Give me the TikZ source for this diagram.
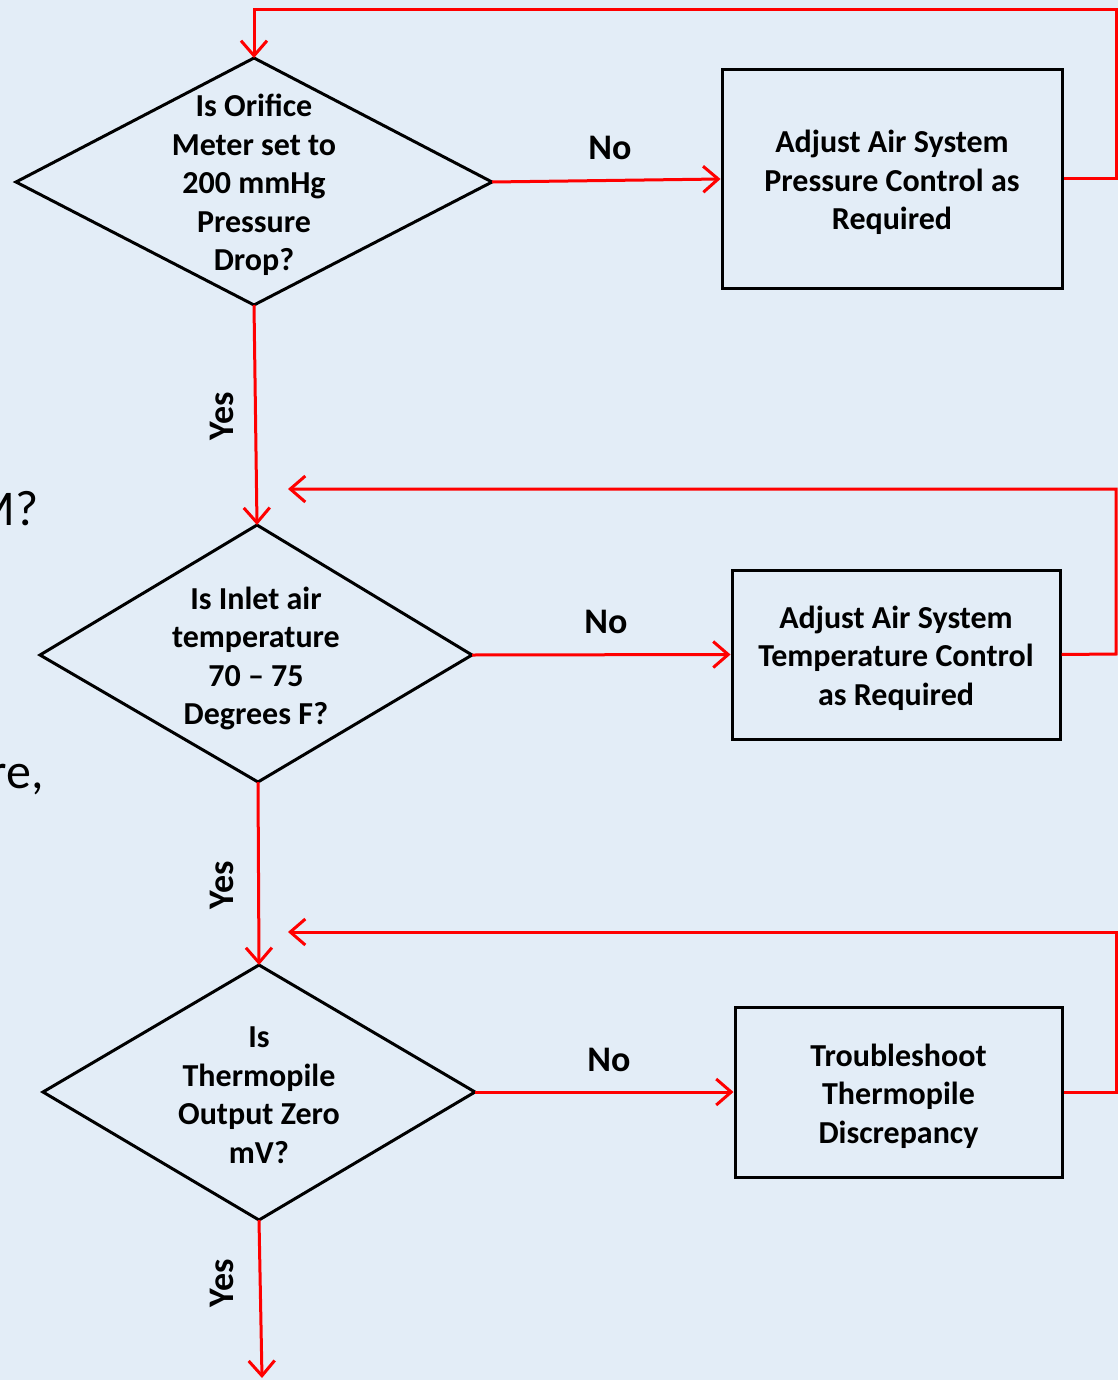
\documentclass[tikz,border=0pt]{standalone}
\usepackage{fontspec}
\setmainfont{Carlito}
\usetikzlibrary{arrows.meta}
\definecolor{bgblue}{HTML}{E3EDF7}
\definecolor{flowred}{HTML}{FF0000}
\begin{document}
\begin{tikzpicture}[x=1pt,y=-1pt,
  shapeline/.style={draw=black,line width=3pt,line join=miter},
  boxst/.style={draw=black,line width=3pt,inner sep=0pt},
  qtext/.style={align=center,font=\bfseries\fontsize{32}{38.5}\selectfont},
  flow/.style={draw=flowred,line width=3pt,
    -{Straight Barb[length=15pt,width=26pt]}},
  nolabel/.style={font=\bfseries\fontsize{36}{40}\selectfont},
  yeslabel/.style={font=\bfseries\fontsize{36}{40}\selectfont,rotate=90},
  bgtext/.style={font=\fontsize{50}{60}\selectfont,inner sep=0pt,anchor=base east}]
\useasboundingbox (0,0) rectangle (1118,1380);
\fill[bgblue] (0,0) rectangle (1118,1380);
\clip (0,0) rectangle (1118,1380);
% background slide fragments
\node[bgtext] (frag1) at (39,525) {M?};
\node[bgtext] (frag2) at (44,788) {re,};
% diamond 1
\coordinate (d1t) at (254,58);
\coordinate (d1r) at (492,182);
\coordinate (d1b) at (254,305);
\coordinate (d1l) at (16,182);
\draw[shapeline] (d1t) -- (d1r) -- (d1b) -- (d1l) -- cycle;
\node[qtext] (q1) at (254,185) {Is Orifice\\Meter set to\\200 mmHg\\Pressure\\Drop?};
% diamond 2
\coordinate (d2t) at (257,525);
\coordinate (d2r) at (472,655);
\coordinate (d2b) at (258,782);
\coordinate (d2l) at (40,655);
\draw[shapeline] (d2t) -- (d2r) -- (d2b) -- (d2l) -- cycle;
\node[qtext] (q2) at (256,658.5) {Is Inlet air\\temperature\\70 -- 75\\Degrees F?};
% diamond 3
\coordinate (d3t) at (259,965);
\coordinate (d3r) at (475,1092);
\coordinate (d3b) at (259,1220);
\coordinate (d3l) at (43,1092);
\draw[shapeline] (d3t) -- (d3r) -- (d3b) -- (d3l) -- cycle;
\node[qtext] (q3) at (259,1095) {Is\\Thermopile\\Output Zero\\mV?};
% boxes
\node[boxst,minimum width=340pt,minimum height=218pt] (b1) at (892,179) {};
\node[qtext] (b1t) at (892,182.5) {Adjust Air System\\Pressure Control as\\Required};
\node[boxst,minimum width=328pt,minimum height=169pt] (b2) at (896,654.5) {};
\node[qtext] (b2t) at (896,658) {Adjust Air System\\Temperature Control\\as Required};
\node[boxst,minimum width=327pt,minimum height=170pt] (b3) at (898.5,1092) {};
\node[qtext] (b3t) at (898.5,1096) {Troubleshoot\\Thermopile\\Discrepancy};
% route coordinates
\coordinate (r1a) at (1116,179);
\coordinate (r1b) at (1116,10);
\coordinate (r1c) at (254,10);
\coordinate (r2a) at (1116,654);
\coordinate (r2b) at (1116,489);
\coordinate (r2e) at (288,489);
\coordinate (r3a) at (1116,1092);
\coordinate (r3b) at (1116,932);
\coordinate (r3e) at (288,932);
\coordinate (exit) at (262,1378);
% No arrows
\draw[flow] (d1r) -- (b1.west);
\draw[flow] (d2r) -- (b2.west);
\draw[flow] (d3r) -- (b3.west);
% feedback loops
\draw[flow] (b1.east) -- (r1a) -- (r1b) -- (r1c) -- (d1t);
\draw[flow] (b2.east) -- (r2a) -- (r2b) -- (r2e);
\draw[flow] (b3.east) -- (r3a) -- (r3b) -- (r3e);
% Yes arrows
\draw[flow] (d1b) -- (d2t);
\draw[flow] (d2b) -- (d3t);
\draw[flow] (d3b) -- (exit);
% labels
\node[nolabel] (n1) at (610,148) {No};
\node[nolabel] (n2) at (606,622) {No};
\node[nolabel] (n3) at (609,1060) {No};
\node[yeslabel] (y1) at (222,416) {Yes};
\node[yeslabel] (y2) at (222,885) {Yes};
\node[yeslabel] (y3) at (222,1283) {Yes};
\end{tikzpicture}
\end{document}
